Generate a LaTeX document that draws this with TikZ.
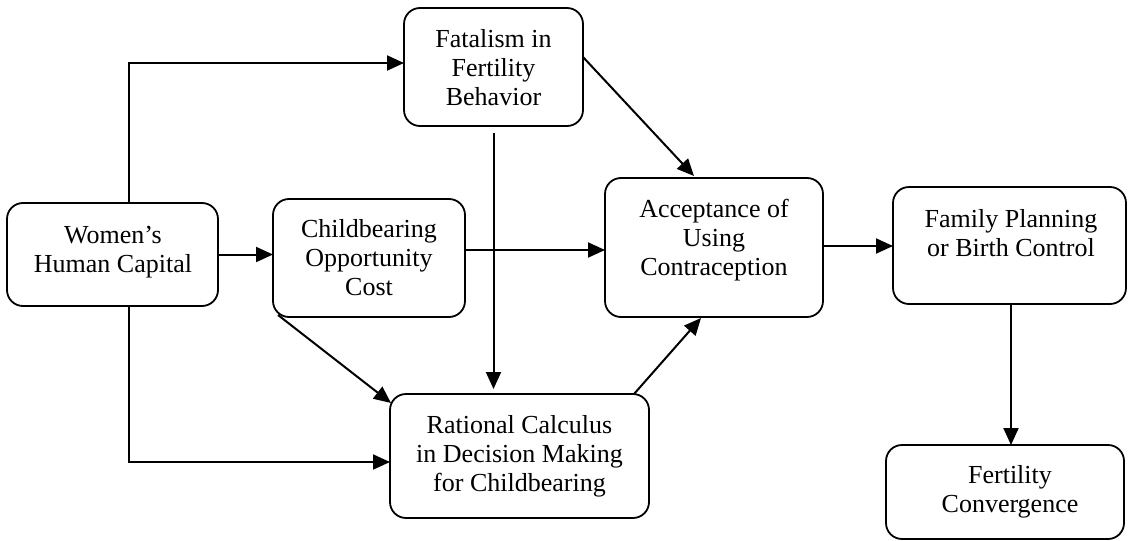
\documentclass[tikz,border=0pt]{standalone}
\usepackage{fontspec}
\setmainfont{Liberation Serif}
\usetikzlibrary{arrows.meta}
\begin{document}
\begin{tikzpicture}[x=1pt,y=-1pt,
  box/.style={draw, line width=1.8pt, rounded corners=16pt, inner sep=0pt, outer sep=0pt},
  txt/.style={inner sep=0pt, outer sep=0pt, align=center, font=\fontsize{26}{29}\selectfont},
  arr/.style={line width=2pt, -{Triangle[length=17pt,width=15pt]}}]
\useasboundingbox (0,0) rectangle (1128,541);

% boxes
\node[box, minimum width=211pt, minimum height=103pt] (W) at (112.5,254.5) {};
\node[box, minimum width=192pt, minimum height=118pt] (C) at (369,258) {};
\node[box, minimum width=179pt, minimum height=118pt] (F) at (493.5,67) {};
\node[box, minimum width=218pt, minimum height=139pt] (A) at (714,247.5) {};
\node[box, minimum width=233pt, minimum height=117pt] (P) at (1009.5,245.5) {};
\node[box, minimum width=259pt, minimum height=124pt] (R) at (519.5,456) {};
\node[box, minimum width=238pt, minimum height=94pt] (V) at (1005,492) {};

% texts
\node[txt] (Wt) at (113,251.7) {\strut Women’s\\\strut Human Capital};
\node[txt] (Ct) at (369,260.2) {\strut Childbearing\\\strut Opportunity\\\strut Cost};
\node[txt] (Ft) at (493.5,70.7) {\strut Fatalism in\\\strut Fertility\\\strut Behavior};
\node[txt] (At) at (714,241) {\strut Acceptance of\\\strut Using\\\strut Contraception};
\node[txt] (Pt) at (1011,235.7) {\strut Family Planning\\\strut or Birth Control};
\node[txt] (Rt) at (519.5,456.4) {\strut Rational Calculus\\\strut in Decision Making\\\strut for Childbearing};
\node[txt] (Vt) at (1010,491.7) {\strut Fertility\\\strut Convergence};

% connectors
\draw[arr] ([xshift=16.5pt]W.north) |- ([yshift=4pt]F.west);
\draw[arr] ([xshift=16.5pt]W.south) |- ([yshift=-6pt]R.west);
\draw[arr] (W.east) -- (W.east -| C.west);
\draw[arr] ([yshift=8pt]C.east) -- ([yshift=8pt]C.east -| A.west);
\draw[arr] ([shift={(5pt,2pt)}]C.south west) -- ([shift={(1pt,-9pt)}]R.north west);
\draw[arr] ([yshift=-7pt]F.south) -- ([yshift=5pt]F.south |- R.north);
\draw[arr] ([yshift=10pt]F.east) -- ([shift={(-20pt,2pt)}]A.north);
\draw[arr] ([xshift=-15pt]R.north east) -- ([shift={(-13pt,-1pt)}]A.south);
\draw[arr] ([yshift=1.5pt]A.east) -- ([yshift=1.5pt]A.east -| P.west);
\draw[arr] ([xshift=1.5pt]P.south) -- ([xshift=1.5pt]P.south |- V.north);
\end{tikzpicture}
\end{document}
